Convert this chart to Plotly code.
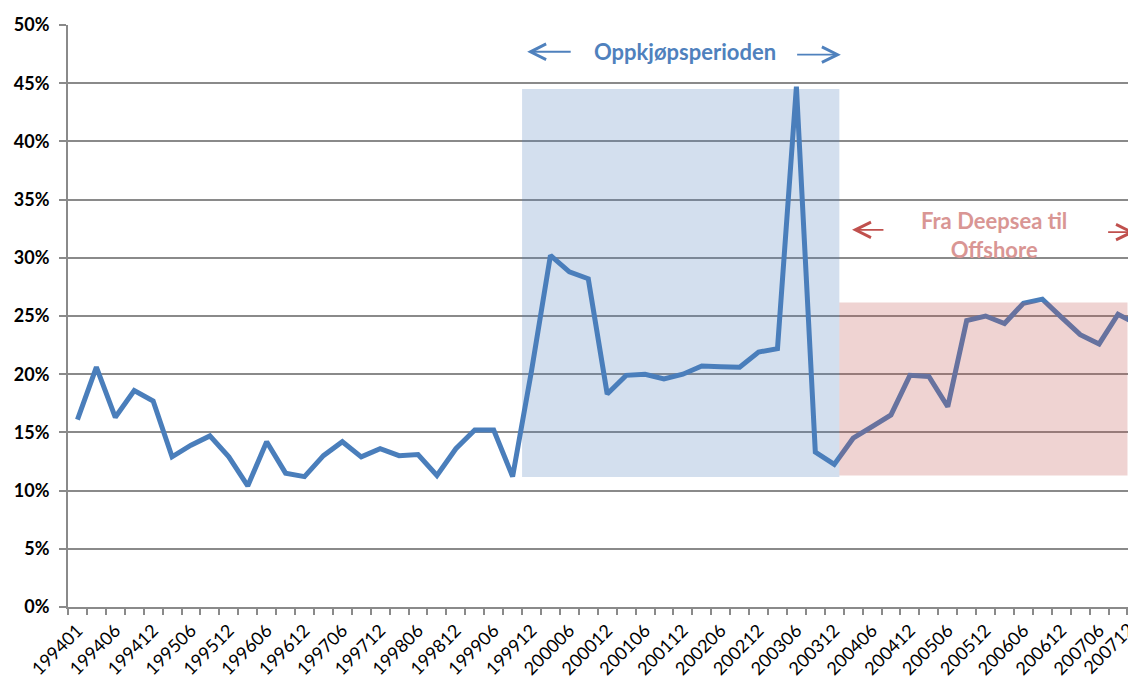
import plotly.graph_objects as go

# Quarterly periods (YYYYMM)
periods = [
    "199401", "199403", "199406", "199409", "199412",
    "199503", "199506", "199509", "199512",
    "199603", "199606", "199609", "199612",
    "199703", "199706", "199709", "199712",
    "199803", "199806", "199809", "199812",
    "199903", "199906", "199909", "199912",
    "200003", "200006", "200009", "200012",
    "200103", "200106", "200109", "200112",
    "200203", "200206", "200209", "200212",
    "200303", "200306", "200309", "200312",
    "200403", "200406", "200409", "200412",
    "200503", "200506", "200509", "200512",
    "200603", "200606", "200609", "200612",
    "200703", "200706", "200709", "200712",
]

# Share in percent
share = [
    16.1, 20.6, 16.3, 18.6, 17.7, 12.9, 13.9, 14.7, 12.9, 10.4,
    14.2, 11.5, 11.2, 13.0, 14.2, 12.9, 13.6, 13.0, 13.1, 11.3,
    13.6, 15.2, 15.2, 11.2, 20.3, 30.2, 28.8, 28.2, 18.3, 19.9,
    20.0, 19.6, 20.0, 20.7, 20.65, 20.6, 21.9, 22.2, 44.7, 13.3,
    12.25, 14.5, 15.5, 16.5, 19.9, 19.8, 17.2, 24.6, 25.0, 24.35,
    26.1, 26.45, 24.9, 23.4, 22.6, 25.15, 24.3,
]

y_ticks = [0, 5, 10, 15, 20, 25, 30, 35, 40, 45, 50]
y_labels = ["0%", "5%", "10%", "15%", "20%", "25%", "30%", "35%", "40%", "45%", "50%"]

x_idx = list(range(len(periods)))
x_range = [-0.5, 55.95]


def to_paper(v):
    return (v - x_range[0]) / (x_range[1] - x_range[0])


grid = "#8a8a8a"
blue = "#4A7EBB"

fig = go.Figure()

fig.add_trace(go.Scatter(
    x=x_idx,
    y=share,
    mode="lines",
    line=dict(color=blue, width=5),
    hoverinfo="skip",
    showlegend=False,
))

# shaded periods
fig.add_shape(type="rect", xref="x", yref="y", x0=23.5, x1=40.27, y0=11.16, y1=44.5,
              fillcolor="rgba(79,129,189,0.25)", line_width=0, layer="between")
fig.add_shape(type="rect", xref="x", yref="y", x0=40.27, x1=55.5, y0=11.3, y1=26.15,
              fillcolor="rgba(192,80,77,0.25)", line_width=0, layer="above")

# labels and arrows
arrow = dict(text="", showarrow=True, arrowhead=5, arrowsize=1.7, arrowwidth=1.8)
fig.add_annotation(x=32.1, y=47.7, xref="x", yref="y", text="<b>Oppkjøpsperioden</b>",
                   showarrow=False, font=dict(family="Lato", size=22, color="#4F81BD"))
fig.add_annotation(x=23.77, y=47.7, ax=26.15, ay=47.7, xref="x", yref="y", axref="x", ayref="y",
                   arrowcolor="#4F81BD", **arrow)
fig.add_annotation(x=40.35, y=47.45, ax=37.96, ay=47.45, xref="x", yref="y", axref="x", ayref="y",
                   arrowcolor="#4F81BD", **arrow)

fig.add_annotation(x=48.45, y=32.0, xref="x", yref="y", text="<b>Fra Deepsea til<br>Offshore</b>",
                   showarrow=False, font=dict(family="Lato", size=22, color="#D99694"))
fig.add_annotation(x=40.94, y=32.4, ax=42.68, ay=32.4, xref="x", yref="y", axref="x", ayref="y",
                   arrowcolor="#C0504D", **arrow)
fig.add_annotation(x=to_paper(56.3), y=32.2, ax=-36, ay=0, xref="paper", yref="y",
                   arrowcolor="#C0504D", **arrow)

# last period label, cut by the picture edge
fig.add_annotation(x=to_paper(x_idx[-1]) + 0.004, y=0, xref="paper", yref="paper", text=periods[-1],
                   showarrow=False, textangle=-45, xanchor="right", yanchor="top", yshift=-8,
                   font=dict(family="Lato", size=18, color="black"))

fig.update_layout(
    width=1128,
    height=670,
    margin=dict(l=60, r=0, t=17, b=71),
    plot_bgcolor="white",
    paper_bgcolor="white",
    font=dict(family="Lato", color="black"),
    xaxis=dict(
        range=x_range,
        automargin=False,
        tickmode="array",
        tickvals=x_idx[::2],
        ticktext=periods[::2],
        tickangle=-45,
        ticks="",
        tickfont=dict(size=18),
        ticklabelstandoff=4,
        showgrid=False,
        showline=True,
        linecolor=grid,
        linewidth=2,
        zeroline=False,
        minor=dict(tickmode="linear", tick0=-0.5, dtick=1, ticks="outside",
                   ticklen=6, tickcolor=grid, tickwidth=1.5, showgrid=False),
    ),
    yaxis=dict(
        range=[0, 50],
        automargin=False,
        tickmode="array",
        tickvals=y_ticks,
        ticktext=y_labels,
        ticks="outside",
        ticklen=7,
        tickcolor=grid,
        tickwidth=1.5,
        tickfont=dict(size=18, family="Lato", weight="bold"),
        showgrid=True,
        gridcolor=grid,
        gridwidth=1.5,
        showline=True,
        linecolor=grid,
        linewidth=2,
        zeroline=False,
        ticklabelstandoff=6,
    ),
)

fig.write_html("out.html")
